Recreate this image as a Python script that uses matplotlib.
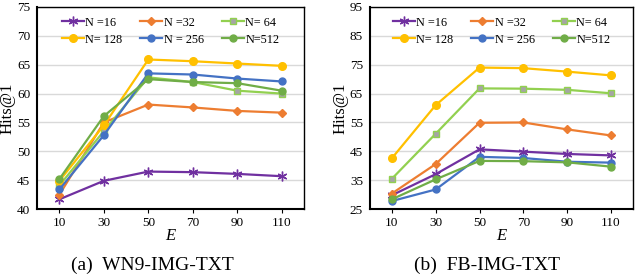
import numpy as np
import matplotlib
matplotlib.use("Agg")
import matplotlib.pyplot as plt

plt.rcParams['font.family'] = ['Liberation Serif', 'DejaVu Serif']

E = ['10', '30', '50', '70', '90', '110']
labels = ['N =16', 'N =32', 'N= 64', 'N= 128', 'N = 256', 'N=512']

# WN9-IMG-TXT
wn9 = [
    [41.7, 44.9, 46.5, 46.4, 46.1, 45.7],
    [42.5, 55.0, 58.1, 57.6, 57.0, 56.7],
    [44.1, 53.5, 62.8, 62.0, 60.5, 60.0],
    [44.9, 54.5, 65.9, 65.6, 65.2, 64.8],
    [43.4, 52.8, 63.5, 63.3, 62.6, 62.1],
    [45.2, 56.1, 62.5, 62.0, 61.8, 60.5],
]
# FB-IMG-TXT
fb = [
    [29.8, 37.1, 45.7, 44.9, 44.1, 43.6],
    [30.4, 40.6, 54.9, 55.0, 52.6, 50.5],
    [35.5, 51.1, 66.8, 66.7, 66.3, 65.1],
    [42.6, 61.0, 74.0, 73.8, 72.6, 71.3],
    [27.8, 31.8, 43.1, 42.7, 41.4, 41.1],
    [28.4, 35.3, 41.7, 41.6, 41.2, 39.7],
]

colors = ['#7030A0', '#ED7D31', '#92D050', '#FFC000', '#4472C4', '#70AD47']
markers = [(6, 2, 0), 'D', 's', 'o', 'o', 'o']
msizes = [7, 4.5, 5, 5.5, 5, 5]
mfaces = ['#7030A0', '#ED7D31', '#A5A5A5', '#FFC000', '#4472C4', '#70AD47']

fig = plt.figure(figsize=(6.4, 2.77), dpi=100)
ax1 = fig.add_axes([0.058, 0.245, 0.417, 0.73])
ax2 = fig.add_axes([0.578, 0.245, 0.411, 0.73])

def draw(ax, data, ylim, yticks):
    x = np.arange(len(E))
    hs = []
    for i in range(len(data)):
        h, = ax.plot(x, data[i], color=colors[i], lw=1.6, marker=markers[i],
                     ms=msizes[i], mfc=mfaces[i], mec=colors[i], mew=1.0,
                     label=labels[i])
        hs.append(h)
    ax.set_xlim(-0.5, 5.5)
    ax.set_ylim(*ylim)
    ax.set_yticks(yticks)
    ax.set_xticks(x)
    ax.set_xticklabels(E)
    ax.yaxis.grid(True, color='#D9D9D9', lw=1.0)
    ax.set_axisbelow(True)
    for s in ax.spines.values():
        s.set_color('black')
        s.set_linewidth(1.0)
    ax.spines['bottom'].set_linewidth(1.5)
    ax.spines['left'].set_linewidth(1.5)
    ax.tick_params(axis='y', length=0, labelsize=9.5, pad=5)
    ax.tick_params(axis='x', length=3, direction='out', labelsize=9.5, pad=3)
    ax.set_xlabel('E', fontstyle='italic', fontsize=12, labelpad=-1)
    ax.set_ylabel('Hits@1', fontsize=12, labelpad=1)
    order = [0, 3, 1, 4, 2, 5]
    ax.legend([hs[k] for k in order], [labels[k] for k in order], ncol=3,
              loc='upper center', bbox_to_anchor=(0.5, 1.0), frameon=False,
              fontsize=8.8, handlelength=1.8, columnspacing=1.5,
              handletextpad=0.1, labelspacing=0.4, borderaxespad=0.4)

draw(ax1, wn9, (40, 75), [40, 45, 50, 55, 60, 65, 70, 75])
draw(ax2, fb, (25, 95), [25, 35, 45, 55, 65, 75, 85, 95])

fig.text(0.238, 0.043, '(a)  WN9-IMG-TXT', ha='center', va='center', fontsize=14)
fig.text(0.761, 0.043, '(b)  FB-IMG-TXT', ha='center', va='center', fontsize=14)

fig.savefig('out.png', dpi=100)
